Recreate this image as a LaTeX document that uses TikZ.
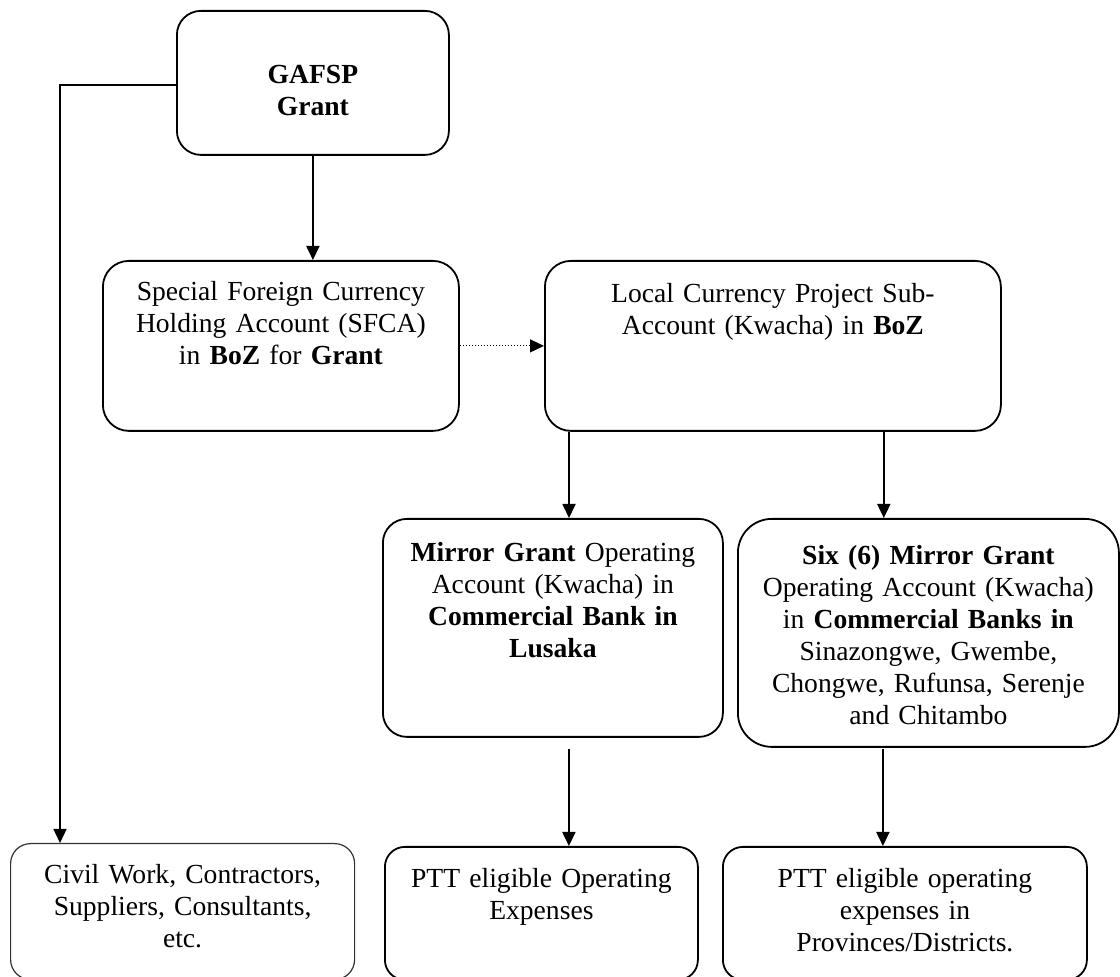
\documentclass[tikz,border=0pt]{standalone}
\usepackage{fontspec}
\setmainfont{Liberation Serif}
\usepackage{tikz}
\usetikzlibrary{arrows.meta}
\tikzset{>={Triangle[length=7pt,width=6.5pt]}}
\tikzset{
  acct/.style={draw,line width=0.9pt,rounded corners=12pt,inner sep=0pt,
    align=center,anchor=north west,font=\fontsize{13.8}{16}\selectfont},
  flow/.style={->,line width=0.9pt},
}

\begin{document}
\begin{tikzpicture}[x=0.5pt,y=-0.5pt]
\useasboundingbox (0,0) rectangle (1120,977);
\node[acct,text width=136pt,text height=36.5pt,text depth=35.5pt] (gafsp) at (176,10)
  {\textbf{GAFSP}\\\textbf{Grant}};
\node[acct,rounded corners=13pt,text width=178pt,text height=20pt,text depth=65pt] (sfca) at (102,260)
  {Special Foreign Currency\\Holding Account (SFCA)\\in \textbf{BoZ} for \textbf{Grant}};
\node[acct,rounded corners=13pt,text width=228pt,text height=21pt,text depth=64pt] (local) at (544,260)
  {Local Currency Project Sub-\\Account (Kwacha) in \textbf{BoZ}};
\node[acct,text width=170pt,text height=21.5pt,text depth=87.5pt] (lusaka) at (382,518)
  {\textbf{Mirror Grant} Operating\\Account (Kwacha) in\\\textbf{Commercial Bank in}\\\textbf{Lusaka}};
\node[acct,rounded corners=17pt,text width=190.5pt,text height=23pt,text depth=91pt] (six) at (737,518)
  {\textbf{Six (6) Mirror Grant}\\Operating Account (Kwacha)\\in \textbf{Commercial Banks in}\\Sinazongwe, Gwembe,\\Chongwe, Rufunsa, Serenje\\and Chitambo};
\node[acct,line width=0.6pt,draw=black!80,rounded corners=10pt,text width=172pt,text height=20pt,text depth=48pt] (civil) at (10,843)
  {Civil Work, Contractors,\\Suppliers, Consultants,\\etc.};
\node[acct,rounded corners=10pt,text width=156.5pt,text height=20.5pt,text depth=46pt] (opex) at (384,846)
  {PTT eligible Operating\\Expenses};
\node[acct,rounded corners=10pt,text width=182pt,text height=20.5pt,text depth=46pt] (prov) at (722,846)
  {PTT eligible operating\\expenses in\\Provinces/Districts.};

\coordinate (split) at (60,85);
\coordinate (c1) at ([xshift=12.5pt]local.south west);
\coordinate (c2) at ([xshift=-59pt]local.south east);
\coordinate (c3) at ([xshift=8pt,yshift=-5.5pt]lusaka.south);
\coordinate (c4) at ([xshift=-22.75pt,yshift=-0.5pt]six.south);

\draw[flow] (gafsp.south) -- (gafsp.south |- sfca.north);
\draw[->,line width=0.7pt] (gafsp.west |- split) -- (split) -- (split |- civil.north);
\draw[->,line width=0.6pt,dash pattern=on 0.6pt off 0.9pt] (sfca.east) -- (local.west);
\draw[flow] (c1) -- (c1 |- lusaka.north);
\draw[flow] (c2) -- (c2 |- six.north);
\draw[flow] (c3) -- (c3 |- opex.north);
\draw[flow] (c4) -- (c4 |- prov.north);
\end{tikzpicture}
\end{document}
